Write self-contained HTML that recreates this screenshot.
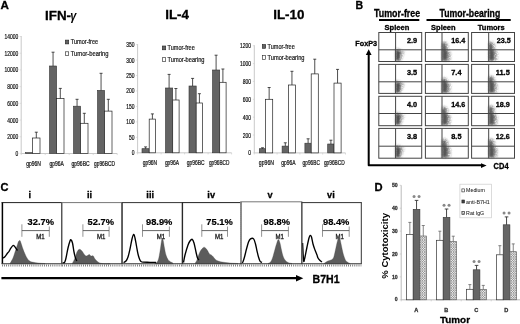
<!DOCTYPE html>
<html><head><meta charset="utf-8"><style>
html,body{margin:0;padding:0;background:#fff;width:520px;height:324px;overflow:hidden}
svg{display:block;filter:blur(0.3px)}
text{font-family:"Liberation Sans", sans-serif}
</style></head><body>
<svg width="520" height="324" viewBox="0 0 520 324" font-family='"Liberation Sans", sans-serif'>
<rect width="520" height="324" fill="#fff"/>
<text x="0.5" y="8.9" font-size="11.2" font-weight="bold" fill="#000" stroke="#000" stroke-width="0.3" textLength="8.4" lengthAdjust="spacingAndGlyphs">A</text>
<text x="45.0" y="19.8" font-size="13.4" font-weight="bold" fill="#000" stroke="#000" stroke-width="0.3">IFN-</text>
<text x="70.3" y="19.8" font-size="12.5" font-weight="bold" font-style="italic" textLength="6.1" lengthAdjust="spacingAndGlyphs">γ</text>
<line x1="21.2" y1="36.0" x2="21.2" y2="153.5" stroke="#bbb" stroke-width="0.8"/>
<line x1="21.2" y1="153.5" x2="117.2" y2="153.5" stroke="#bbb" stroke-width="0.8"/>
<line x1="21.2" y1="153.5" x2="21.2" y2="155.1" stroke="#ccc" stroke-width="0.7"/>
<line x1="45.2" y1="153.5" x2="45.2" y2="155.1" stroke="#ccc" stroke-width="0.7"/>
<line x1="69.2" y1="153.5" x2="69.2" y2="155.1" stroke="#ccc" stroke-width="0.7"/>
<line x1="93.2" y1="153.5" x2="93.2" y2="155.1" stroke="#ccc" stroke-width="0.7"/>
<line x1="117.2" y1="153.5" x2="117.2" y2="155.1" stroke="#ccc" stroke-width="0.7"/>
<line x1="19.7" y1="36.5" x2="21.2" y2="36.5" stroke="#ccc" stroke-width="0.6"/>
<text x="18.2" y="39.0" font-size="7.3" fill="#111" stroke="#111" stroke-width="0.22" text-anchor="end" textLength="13.75" lengthAdjust="spacingAndGlyphs">14000</text>
<line x1="19.7" y1="53.214285714285715" x2="21.2" y2="53.214285714285715" stroke="#ccc" stroke-width="0.6"/>
<text x="18.2" y="55.714285714285715" font-size="7.3" fill="#111" stroke="#111" stroke-width="0.22" text-anchor="end" textLength="13.75" lengthAdjust="spacingAndGlyphs">12000</text>
<line x1="19.7" y1="69.92857142857143" x2="21.2" y2="69.92857142857143" stroke="#ccc" stroke-width="0.6"/>
<text x="18.2" y="72.42857142857143" font-size="7.3" fill="#111" stroke="#111" stroke-width="0.22" text-anchor="end" textLength="13.75" lengthAdjust="spacingAndGlyphs">10000</text>
<line x1="19.7" y1="86.64285714285714" x2="21.2" y2="86.64285714285714" stroke="#ccc" stroke-width="0.6"/>
<text x="18.2" y="89.14285714285714" font-size="7.3" fill="#111" stroke="#111" stroke-width="0.22" text-anchor="end" textLength="11.0" lengthAdjust="spacingAndGlyphs">8000</text>
<line x1="19.7" y1="103.35714285714286" x2="21.2" y2="103.35714285714286" stroke="#ccc" stroke-width="0.6"/>
<text x="18.2" y="105.85714285714286" font-size="7.3" fill="#111" stroke="#111" stroke-width="0.22" text-anchor="end" textLength="11.0" lengthAdjust="spacingAndGlyphs">6000</text>
<line x1="19.7" y1="120.07142857142858" x2="21.2" y2="120.07142857142858" stroke="#ccc" stroke-width="0.6"/>
<text x="18.2" y="122.57142857142858" font-size="7.3" fill="#111" stroke="#111" stroke-width="0.22" text-anchor="end" textLength="11.0" lengthAdjust="spacingAndGlyphs">4000</text>
<line x1="19.7" y1="136.78571428571428" x2="21.2" y2="136.78571428571428" stroke="#ccc" stroke-width="0.6"/>
<text x="18.2" y="139.28571428571428" font-size="7.3" fill="#111" stroke="#111" stroke-width="0.22" text-anchor="end" textLength="11.0" lengthAdjust="spacingAndGlyphs">2000</text>
<line x1="19.7" y1="153.5" x2="21.2" y2="153.5" stroke="#ccc" stroke-width="0.6"/>
<text x="18.2" y="156.0" font-size="7.3" fill="#111" stroke="#111" stroke-width="0.22" text-anchor="end" textLength="2.75" lengthAdjust="spacingAndGlyphs">0</text>
<rect x="25.50" y="152.60" width="7.10" height="0.90" fill="#646464" stroke="#333" stroke-width="0.6"/>
<rect x="32.60" y="138.00" width="7.40" height="15.50" fill="#fff" stroke="#222" stroke-width="0.7"/>
<line x1="36.300000000000004" y1="138.0" x2="36.300000000000004" y2="132.2" stroke="#222" stroke-width="0.8"/>
<line x1="34.800000000000004" y1="132.2" x2="37.800000000000004" y2="132.2" stroke="#222" stroke-width="0.8"/>
<rect x="49.50" y="66.00" width="7.10" height="87.50" fill="#646464" stroke="#333" stroke-width="0.6"/>
<rect x="56.60" y="98.50" width="7.40" height="55.00" fill="#fff" stroke="#222" stroke-width="0.7"/>
<line x1="53.05" y1="66.0" x2="53.05" y2="52.2" stroke="#222" stroke-width="0.8"/>
<line x1="51.55" y1="52.2" x2="54.55" y2="52.2" stroke="#222" stroke-width="0.8"/>
<line x1="60.300000000000004" y1="98.5" x2="60.300000000000004" y2="88.4" stroke="#222" stroke-width="0.8"/>
<line x1="58.800000000000004" y1="88.4" x2="61.800000000000004" y2="88.4" stroke="#222" stroke-width="0.8"/>
<rect x="73.50" y="106.20" width="7.10" height="47.30" fill="#646464" stroke="#333" stroke-width="0.6"/>
<rect x="80.60" y="123.30" width="7.40" height="30.20" fill="#fff" stroke="#222" stroke-width="0.7"/>
<line x1="77.05" y1="106.2" x2="77.05" y2="99.3" stroke="#222" stroke-width="0.8"/>
<line x1="75.55" y1="99.3" x2="78.55" y2="99.3" stroke="#222" stroke-width="0.8"/>
<line x1="84.30000000000001" y1="123.3" x2="84.30000000000001" y2="113.3" stroke="#222" stroke-width="0.8"/>
<line x1="82.80000000000001" y1="113.3" x2="85.80000000000001" y2="113.3" stroke="#222" stroke-width="0.8"/>
<rect x="97.50" y="90.40" width="7.10" height="63.10" fill="#646464" stroke="#333" stroke-width="0.6"/>
<rect x="104.60" y="111.10" width="7.40" height="42.40" fill="#fff" stroke="#222" stroke-width="0.7"/>
<line x1="101.05" y1="90.4" x2="101.05" y2="73.3" stroke="#222" stroke-width="0.8"/>
<line x1="99.55" y1="73.3" x2="102.55" y2="73.3" stroke="#222" stroke-width="0.8"/>
<line x1="108.30000000000001" y1="111.1" x2="108.30000000000001" y2="99.3" stroke="#222" stroke-width="0.8"/>
<line x1="106.80000000000001" y1="99.3" x2="109.80000000000001" y2="99.3" stroke="#222" stroke-width="0.8"/>
<text x="26.2" y="166.0" font-size="6.8" fill="#111" stroke="#111" stroke-width="0.22" textLength="14.7" lengthAdjust="spacingAndGlyphs">gp96N</text>
<text x="49.6" y="166.0" font-size="6.8" fill="#111" stroke="#111" stroke-width="0.22" textLength="14.3" lengthAdjust="spacingAndGlyphs">gp96A</text>
<text x="71.5" y="166.0" font-size="6.8" fill="#111" stroke="#111" stroke-width="0.22" textLength="18.1" lengthAdjust="spacingAndGlyphs">gp96BC</text>
<text x="94.0" y="166.0" font-size="6.8" fill="#111" stroke="#111" stroke-width="0.22" textLength="21.0" lengthAdjust="spacingAndGlyphs">gp96BCD</text>
<rect x="65.30" y="40.10" width="3.40" height="3.80" fill="#646464" stroke="#222" stroke-width="0.6"/>
<rect x="65.30" y="51.80" width="3.40" height="3.80" fill="#fff" stroke="#222" stroke-width="0.6"/>
<text x="70.8" y="44.4" font-size="6.8" fill="#222" stroke="#222" stroke-width="0.22" textLength="27.4" lengthAdjust="spacingAndGlyphs">Tumor-free</text>
<text x="70.8" y="56.1" font-size="6.8" fill="#222" stroke="#222" stroke-width="0.22" textLength="37.7" lengthAdjust="spacingAndGlyphs">Tumor-bearing</text>
<text x="165.2" y="19.1" font-size="13.4" font-weight="bold" fill="#000" stroke="#000" stroke-width="0.3">IL-4</text>
<line x1="137.6" y1="44.1" x2="137.6" y2="152.8" stroke="#bbb" stroke-width="0.8"/>
<line x1="137.6" y1="152.8" x2="231.6" y2="152.8" stroke="#bbb" stroke-width="0.8"/>
<line x1="137.6" y1="152.8" x2="137.6" y2="154.4" stroke="#ccc" stroke-width="0.7"/>
<line x1="161.1" y1="152.8" x2="161.1" y2="154.4" stroke="#ccc" stroke-width="0.7"/>
<line x1="184.6" y1="152.8" x2="184.6" y2="154.4" stroke="#ccc" stroke-width="0.7"/>
<line x1="208.1" y1="152.8" x2="208.1" y2="154.4" stroke="#ccc" stroke-width="0.7"/>
<line x1="231.6" y1="152.8" x2="231.6" y2="154.4" stroke="#ccc" stroke-width="0.7"/>
<line x1="136.1" y1="44.6" x2="137.6" y2="44.6" stroke="#ccc" stroke-width="0.6"/>
<text x="134.6" y="47.1" font-size="7.3" fill="#111" stroke="#111" stroke-width="0.22" text-anchor="end" textLength="8.25" lengthAdjust="spacingAndGlyphs">350</text>
<line x1="136.1" y1="60.057142857142864" x2="137.6" y2="60.057142857142864" stroke="#ccc" stroke-width="0.6"/>
<text x="134.6" y="62.557142857142864" font-size="7.3" fill="#111" stroke="#111" stroke-width="0.22" text-anchor="end" textLength="8.25" lengthAdjust="spacingAndGlyphs">300</text>
<line x1="136.1" y1="75.51428571428572" x2="137.6" y2="75.51428571428572" stroke="#ccc" stroke-width="0.6"/>
<text x="134.6" y="78.01428571428572" font-size="7.3" fill="#111" stroke="#111" stroke-width="0.22" text-anchor="end" textLength="8.25" lengthAdjust="spacingAndGlyphs">250</text>
<line x1="136.1" y1="90.97142857142859" x2="137.6" y2="90.97142857142859" stroke="#ccc" stroke-width="0.6"/>
<text x="134.6" y="93.47142857142859" font-size="7.3" fill="#111" stroke="#111" stroke-width="0.22" text-anchor="end" textLength="8.25" lengthAdjust="spacingAndGlyphs">200</text>
<line x1="136.1" y1="106.42857142857144" x2="137.6" y2="106.42857142857144" stroke="#ccc" stroke-width="0.6"/>
<text x="134.6" y="108.92857142857144" font-size="7.3" fill="#111" stroke="#111" stroke-width="0.22" text-anchor="end" textLength="8.25" lengthAdjust="spacingAndGlyphs">150</text>
<line x1="136.1" y1="121.8857142857143" x2="137.6" y2="121.8857142857143" stroke="#ccc" stroke-width="0.6"/>
<text x="134.6" y="124.3857142857143" font-size="7.3" fill="#111" stroke="#111" stroke-width="0.22" text-anchor="end" textLength="8.25" lengthAdjust="spacingAndGlyphs">100</text>
<line x1="136.1" y1="137.34285714285716" x2="137.6" y2="137.34285714285716" stroke="#ccc" stroke-width="0.6"/>
<text x="134.6" y="139.84285714285716" font-size="7.3" fill="#111" stroke="#111" stroke-width="0.22" text-anchor="end" textLength="5.5" lengthAdjust="spacingAndGlyphs">50</text>
<line x1="136.1" y1="152.8" x2="137.6" y2="152.8" stroke="#ccc" stroke-width="0.6"/>
<text x="134.6" y="155.3" font-size="7.3" fill="#111" stroke="#111" stroke-width="0.22" text-anchor="end" textLength="2.75" lengthAdjust="spacingAndGlyphs">0</text>
<rect x="142.00" y="148.70" width="7.20" height="4.10" fill="#646464" stroke="#333" stroke-width="0.6"/>
<rect x="149.20" y="119.10" width="6.40" height="33.70" fill="#fff" stroke="#222" stroke-width="0.7"/>
<line x1="145.6" y1="148.7" x2="145.6" y2="146.9" stroke="#222" stroke-width="0.8"/>
<line x1="144.1" y1="146.9" x2="147.1" y2="146.9" stroke="#222" stroke-width="0.8"/>
<line x1="152.39999999999998" y1="119.1" x2="152.39999999999998" y2="113.9" stroke="#222" stroke-width="0.8"/>
<line x1="150.89999999999998" y1="113.9" x2="153.89999999999998" y2="113.9" stroke="#222" stroke-width="0.8"/>
<rect x="165.50" y="88.00" width="7.20" height="64.80" fill="#646464" stroke="#333" stroke-width="0.6"/>
<rect x="172.70" y="100.00" width="6.40" height="52.80" fill="#fff" stroke="#222" stroke-width="0.7"/>
<line x1="169.1" y1="88.0" x2="169.1" y2="74.4" stroke="#222" stroke-width="0.8"/>
<line x1="167.6" y1="74.4" x2="170.6" y2="74.4" stroke="#222" stroke-width="0.8"/>
<line x1="175.89999999999998" y1="100.0" x2="175.89999999999998" y2="88.5" stroke="#222" stroke-width="0.8"/>
<line x1="174.39999999999998" y1="88.5" x2="177.39999999999998" y2="88.5" stroke="#222" stroke-width="0.8"/>
<rect x="189.00" y="86.00" width="7.20" height="66.80" fill="#646464" stroke="#333" stroke-width="0.6"/>
<rect x="196.20" y="103.00" width="6.40" height="49.80" fill="#fff" stroke="#222" stroke-width="0.7"/>
<line x1="192.6" y1="86.0" x2="192.6" y2="78.4" stroke="#222" stroke-width="0.8"/>
<line x1="191.1" y1="78.4" x2="194.1" y2="78.4" stroke="#222" stroke-width="0.8"/>
<line x1="199.39999999999998" y1="103.0" x2="199.39999999999998" y2="93.7" stroke="#222" stroke-width="0.8"/>
<line x1="197.89999999999998" y1="93.7" x2="200.89999999999998" y2="93.7" stroke="#222" stroke-width="0.8"/>
<rect x="212.50" y="70.00" width="7.20" height="82.80" fill="#646464" stroke="#333" stroke-width="0.6"/>
<rect x="219.70" y="82.30" width="6.40" height="70.50" fill="#fff" stroke="#222" stroke-width="0.7"/>
<line x1="216.1" y1="70.0" x2="216.1" y2="55.2" stroke="#222" stroke-width="0.8"/>
<line x1="214.6" y1="55.2" x2="217.6" y2="55.2" stroke="#222" stroke-width="0.8"/>
<line x1="222.89999999999998" y1="82.3" x2="222.89999999999998" y2="69.0" stroke="#222" stroke-width="0.8"/>
<line x1="221.39999999999998" y1="69.0" x2="224.39999999999998" y2="69.0" stroke="#222" stroke-width="0.8"/>
<text x="142.7" y="165.2" font-size="6.8" fill="#111" stroke="#111" stroke-width="0.22" textLength="14.4" lengthAdjust="spacingAndGlyphs">gp96N</text>
<text x="164.9" y="165.2" font-size="6.8" fill="#111" stroke="#111" stroke-width="0.22" textLength="14.2" lengthAdjust="spacingAndGlyphs">gp96A</text>
<text x="186.7" y="165.2" font-size="6.8" fill="#111" stroke="#111" stroke-width="0.22" textLength="17.8" lengthAdjust="spacingAndGlyphs">gp96BC</text>
<text x="208.9" y="165.2" font-size="6.8" fill="#111" stroke="#111" stroke-width="0.22" textLength="20.5" lengthAdjust="spacingAndGlyphs">gp96BCD</text>
<rect x="162.30" y="46.00" width="3.40" height="3.80" fill="#646464" stroke="#222" stroke-width="0.6"/>
<rect x="162.30" y="57.70" width="3.40" height="3.80" fill="#fff" stroke="#222" stroke-width="0.6"/>
<text x="167.5" y="50.3" font-size="6.8" fill="#222" stroke="#222" stroke-width="0.22" textLength="27.3" lengthAdjust="spacingAndGlyphs">Tumor-free</text>
<text x="167.5" y="62.0" font-size="6.8" fill="#222" stroke="#222" stroke-width="0.22" textLength="37.0" lengthAdjust="spacingAndGlyphs">Tumor-bearing</text>
<text x="273.2" y="19.1" font-size="13.4" font-weight="bold" fill="#000" stroke="#000" stroke-width="0.3">IL-10</text>
<line x1="254.3" y1="45.2" x2="254.3" y2="152.9" stroke="#bbb" stroke-width="0.8"/>
<line x1="254.3" y1="152.9" x2="345.5" y2="152.9" stroke="#bbb" stroke-width="0.8"/>
<line x1="254.3" y1="152.9" x2="254.3" y2="154.5" stroke="#ccc" stroke-width="0.7"/>
<line x1="277.1" y1="152.9" x2="277.1" y2="154.5" stroke="#ccc" stroke-width="0.7"/>
<line x1="299.90000000000003" y1="152.9" x2="299.90000000000003" y2="154.5" stroke="#ccc" stroke-width="0.7"/>
<line x1="322.70000000000005" y1="152.9" x2="322.70000000000005" y2="154.5" stroke="#ccc" stroke-width="0.7"/>
<line x1="345.5" y1="152.9" x2="345.5" y2="154.5" stroke="#ccc" stroke-width="0.7"/>
<line x1="252.8" y1="45.7" x2="254.3" y2="45.7" stroke="#ccc" stroke-width="0.6"/>
<text x="251.0" y="48.2" font-size="7.3" fill="#111" stroke="#111" stroke-width="0.22" text-anchor="end" textLength="11.0" lengthAdjust="spacingAndGlyphs">1200</text>
<line x1="252.8" y1="63.56666666666667" x2="254.3" y2="63.56666666666667" stroke="#ccc" stroke-width="0.6"/>
<text x="251.0" y="66.06666666666666" font-size="7.3" fill="#111" stroke="#111" stroke-width="0.22" text-anchor="end" textLength="11.0" lengthAdjust="spacingAndGlyphs">1000</text>
<line x1="252.8" y1="81.43333333333334" x2="254.3" y2="81.43333333333334" stroke="#ccc" stroke-width="0.6"/>
<text x="251.0" y="83.93333333333334" font-size="7.3" fill="#111" stroke="#111" stroke-width="0.22" text-anchor="end" textLength="8.25" lengthAdjust="spacingAndGlyphs">800</text>
<line x1="252.8" y1="99.30000000000001" x2="254.3" y2="99.30000000000001" stroke="#ccc" stroke-width="0.6"/>
<text x="251.0" y="101.80000000000001" font-size="7.3" fill="#111" stroke="#111" stroke-width="0.22" text-anchor="end" textLength="8.25" lengthAdjust="spacingAndGlyphs">600</text>
<line x1="252.8" y1="117.16666666666667" x2="254.3" y2="117.16666666666667" stroke="#ccc" stroke-width="0.6"/>
<text x="251.0" y="119.66666666666667" font-size="7.3" fill="#111" stroke="#111" stroke-width="0.22" text-anchor="end" textLength="8.25" lengthAdjust="spacingAndGlyphs">400</text>
<line x1="252.8" y1="135.03333333333336" x2="254.3" y2="135.03333333333336" stroke="#ccc" stroke-width="0.6"/>
<text x="251.0" y="137.53333333333336" font-size="7.3" fill="#111" stroke="#111" stroke-width="0.22" text-anchor="end" textLength="8.25" lengthAdjust="spacingAndGlyphs">200</text>
<line x1="252.8" y1="152.9" x2="254.3" y2="152.9" stroke="#ccc" stroke-width="0.6"/>
<text x="251.0" y="155.4" font-size="7.3" fill="#111" stroke="#111" stroke-width="0.22" text-anchor="end" textLength="2.75" lengthAdjust="spacingAndGlyphs">0</text>
<rect x="259.30" y="148.70" width="6.40" height="4.20" fill="#646464" stroke="#333" stroke-width="0.6"/>
<rect x="265.60" y="99.30" width="7.10" height="53.60" fill="#fff" stroke="#222" stroke-width="0.7"/>
<line x1="262.5" y1="148.7" x2="262.5" y2="147.8" stroke="#222" stroke-width="0.8"/>
<line x1="261.0" y1="147.8" x2="264.0" y2="147.8" stroke="#222" stroke-width="0.8"/>
<line x1="269.15000000000003" y1="99.3" x2="269.15000000000003" y2="87.5" stroke="#222" stroke-width="0.8"/>
<line x1="267.65000000000003" y1="87.5" x2="270.65000000000003" y2="87.5" stroke="#222" stroke-width="0.8"/>
<rect x="282.10" y="146.10" width="6.40" height="6.80" fill="#646464" stroke="#333" stroke-width="0.6"/>
<rect x="288.40" y="85.00" width="7.10" height="67.90" fill="#fff" stroke="#222" stroke-width="0.7"/>
<line x1="285.3" y1="146.1" x2="285.3" y2="142.8" stroke="#222" stroke-width="0.8"/>
<line x1="283.8" y1="142.8" x2="286.8" y2="142.8" stroke="#222" stroke-width="0.8"/>
<line x1="291.95000000000005" y1="85.0" x2="291.95000000000005" y2="71.3" stroke="#222" stroke-width="0.8"/>
<line x1="290.45000000000005" y1="71.3" x2="293.45000000000005" y2="71.3" stroke="#222" stroke-width="0.8"/>
<rect x="304.90" y="143.20" width="6.40" height="9.70" fill="#646464" stroke="#333" stroke-width="0.6"/>
<rect x="311.20" y="73.90" width="7.10" height="79.00" fill="#fff" stroke="#222" stroke-width="0.7"/>
<line x1="308.1" y1="143.2" x2="308.1" y2="138.8" stroke="#222" stroke-width="0.8"/>
<line x1="306.6" y1="138.8" x2="309.6" y2="138.8" stroke="#222" stroke-width="0.8"/>
<line x1="314.75000000000006" y1="73.9" x2="314.75000000000006" y2="59.2" stroke="#222" stroke-width="0.8"/>
<line x1="313.25000000000006" y1="59.2" x2="316.25000000000006" y2="59.2" stroke="#222" stroke-width="0.8"/>
<rect x="327.70" y="144.00" width="6.40" height="8.90" fill="#646464" stroke="#333" stroke-width="0.6"/>
<rect x="334.00" y="83.10" width="7.10" height="69.80" fill="#fff" stroke="#222" stroke-width="0.7"/>
<line x1="330.90000000000003" y1="144.0" x2="330.90000000000003" y2="140.2" stroke="#222" stroke-width="0.8"/>
<line x1="329.40000000000003" y1="140.2" x2="332.40000000000003" y2="140.2" stroke="#222" stroke-width="0.8"/>
<line x1="337.55000000000007" y1="83.1" x2="337.55000000000007" y2="69.4" stroke="#222" stroke-width="0.8"/>
<line x1="336.05000000000007" y1="69.4" x2="339.05000000000007" y2="69.4" stroke="#222" stroke-width="0.8"/>
<text x="258.8" y="165.2" font-size="6.8" fill="#111" stroke="#111" stroke-width="0.22" textLength="15.2" lengthAdjust="spacingAndGlyphs">gp96N</text>
<text x="281.3" y="165.2" font-size="6.8" fill="#111" stroke="#111" stroke-width="0.22" textLength="14.4" lengthAdjust="spacingAndGlyphs">gp96A</text>
<text x="302.6" y="165.2" font-size="6.8" fill="#111" stroke="#111" stroke-width="0.22" textLength="17.3" lengthAdjust="spacingAndGlyphs">gp96BC</text>
<text x="323.9" y="165.2" font-size="6.8" fill="#111" stroke="#111" stroke-width="0.22" textLength="20.8" lengthAdjust="spacingAndGlyphs">gp96BCD</text>
<rect x="262.30" y="44.50" width="3.40" height="3.80" fill="#646464" stroke="#222" stroke-width="0.6"/>
<rect x="262.30" y="55.50" width="3.40" height="3.80" fill="#fff" stroke="#222" stroke-width="0.6"/>
<text x="267.5" y="48.8" font-size="6.8" fill="#222" stroke="#222" stroke-width="0.22" textLength="27.3" lengthAdjust="spacingAndGlyphs">Tumor-free</text>
<text x="267.5" y="59.8" font-size="6.8" fill="#222" stroke="#222" stroke-width="0.22" textLength="37.0" lengthAdjust="spacingAndGlyphs">Tumor-bearing</text>
<text x="355.4" y="8.9" font-size="10.2" font-weight="bold" fill="#000" stroke="#000" stroke-width="0.3" textLength="7.6" lengthAdjust="spacingAndGlyphs">B</text>
<text x="374.0" y="16.8" font-size="10.0" font-weight="bold" fill="#000" stroke="#000" stroke-width="0.3" textLength="46.2" lengthAdjust="spacingAndGlyphs">Tumor-free</text>
<rect x="379.00" y="19.00" width="40.30" height="2.00" fill="#000" stroke="none" stroke-width="1"/>
<text x="439.6" y="16.8" font-size="10.0" font-weight="bold" fill="#000" stroke="#000" stroke-width="0.3" textLength="60.6" lengthAdjust="spacingAndGlyphs">Tumor-bearing</text>
<rect x="426.50" y="19.00" width="84.20" height="2.00" fill="#000" stroke="none" stroke-width="1"/>
<text x="384.5" y="29.6" font-size="7.6" font-weight="bold" fill="#000" stroke="#000" stroke-width="0.3" textLength="24.8" lengthAdjust="spacingAndGlyphs">Spleen</text>
<text x="431.1" y="29.6" font-size="7.6" font-weight="bold" fill="#000" stroke="#000" stroke-width="0.3" textLength="24.5" lengthAdjust="spacingAndGlyphs">Spleen</text>
<text x="477.8" y="29.6" font-size="7.6" font-weight="bold" fill="#000" stroke="#000" stroke-width="0.3" textLength="26.9" lengthAdjust="spacingAndGlyphs">Tumors</text>
<text x="355.3" y="46.1" font-size="8.0" font-weight="bold" fill="#000" stroke="#000" stroke-width="0.3" textLength="21.8" lengthAdjust="spacingAndGlyphs">FoxP3</text>
<path d="M368.7 54 L368.7 165.2 L482 165.2" fill="none" stroke="#000" stroke-width="2" stroke-linejoin="round"/>
<path d="M368.7 49.3 L371.6 55 L365.8 55 Z" fill="#000"/>
<path d="M486.6 165.6 L481.0 163.2 L481.0 168.0 Z" fill="#000"/>
<text x="493.6" y="168.5" font-size="8.2" font-weight="bold" fill="#000" stroke="#000" stroke-width="0.3" textLength="15.0" lengthAdjust="spacingAndGlyphs">CD4</text>
<defs><filter id="bl" x="-50%" y="-50%" width="200%" height="200%"><feGaussianBlur stdDeviation="0.9"/></filter><filter id="bl2" x="-50%" y="-50%" width="200%" height="200%"><feGaussianBlur stdDeviation="0.5"/></filter><filter id="spk" x="-50%" y="-50%" width="200%" height="200%"><feGaussianBlur in="SourceGraphic" stdDeviation="0.9" result="b"/><feTurbulence type="fractalNoise" baseFrequency="0.7" numOctaves="2" seed="3" result="n"/><feColorMatrix in="n" type="matrix" values="0 0 0 0 0  0 0 0 0 0  0 0 0 0 0  0 0 0 -2.2 1.9" result="m"/><feComposite in="b" in2="m" operator="in" result="c"/><feGaussianBlur in="c" stdDeviation="0.35"/></filter><pattern id="hatch" width="2.4" height="2.4" patternUnits="userSpaceOnUse"><rect width="2.4" height="2.4" fill="#f2f2f2"/><path d="M0 0 L2.4 2.4 M2.4 0 L0 2.4" stroke="#7a7a7a" stroke-width="0.6"/></pattern></defs>
<path d="M395.6 47.8 L399.6 48.8 L404.6 51.8 L403.1 55.8 L401.1 60.9 L395.6 60.9 Z" fill="#b0b0b0" filter="url(#spk)"/>
<path d="M395.90000000000003 50.099999999999994 L400.6 51.3 L400.1 55.8 L399.40000000000003 60.5 L395.90000000000003 60.5 Z" fill="#4a4a4a" filter="url(#bl)"/>
<rect x="378.80" y="32.50" width="42.90" height="29.00" fill="none" stroke="#444" stroke-width="1.0"/>
<line x1="378.8" y1="49.8" x2="421.7" y2="49.8" stroke="#444" stroke-width="1.0"/>
<line x1="395.6" y1="32.5" x2="395.6" y2="61.5" stroke="#444" stroke-width="1.0"/>
<text x="407.0" y="42.8" font-size="7.4" font-weight="bold" fill="#000" stroke="#000" stroke-width="0.3" textLength="10.2" lengthAdjust="spacingAndGlyphs">2.9</text>
<path d="M442.0 41.8 L445.5 41.3 L448.5 44.8 L448.5 49.8 L451.0 52.8 L450.5 60.9 L442.0 60.9 Z" fill="#a8a8a8" filter="url(#spk)"/>
<path d="M442.6 43.3 L445.4 43.8 L445.8 49.8 L447.8 51.8 L447.2 60.5 L442.3 60.5 L442.3 49.8 Z" fill="#555" filter="url(#bl)"/>
<rect x="425.40" y="32.50" width="42.90" height="29.00" fill="none" stroke="#444" stroke-width="1.0"/>
<line x1="425.4" y1="49.8" x2="468.29999999999995" y2="49.8" stroke="#444" stroke-width="1.0"/>
<line x1="442.0" y1="32.5" x2="442.0" y2="61.5" stroke="#444" stroke-width="1.0"/>
<text x="451.3" y="42.8" font-size="7.4" font-weight="bold" fill="#000" stroke="#000" stroke-width="0.3" textLength="14.0" lengthAdjust="spacingAndGlyphs">16.4</text>
<path d="M488.7 41.8 L492.2 41.3 L495.2 44.8 L495.2 49.8 L497.7 52.8 L497.2 60.9 L488.7 60.9 Z" fill="#a8a8a8" filter="url(#spk)"/>
<path d="M489.3 43.3 L492.09999999999997 43.8 L492.5 49.8 L494.5 51.8 L493.9 60.5 L489.0 60.5 L489.0 49.8 Z" fill="#555" filter="url(#bl)"/>
<rect x="471.60" y="32.50" width="42.90" height="29.00" fill="none" stroke="#444" stroke-width="1.0"/>
<line x1="471.6" y1="49.8" x2="514.5" y2="49.8" stroke="#444" stroke-width="1.0"/>
<line x1="488.7" y1="32.5" x2="488.7" y2="61.5" stroke="#444" stroke-width="1.0"/>
<text x="496.7" y="42.8" font-size="7.4" font-weight="bold" fill="#000" stroke="#000" stroke-width="0.3" textLength="14.0" lengthAdjust="spacingAndGlyphs">23.5</text>
<path d="M395.6 79.80000000000001 L399.6 80.80000000000001 L404.6 83.80000000000001 L403.1 87.80000000000001 L401.1 92.80000000000001 L395.6 92.80000000000001 Z" fill="#b0b0b0" filter="url(#spk)"/>
<path d="M395.90000000000003 82.10000000000001 L400.6 83.30000000000001 L400.1 87.80000000000001 L399.40000000000003 92.4 L395.90000000000003 92.4 Z" fill="#4a4a4a" filter="url(#bl)"/>
<rect x="378.80" y="64.40" width="42.90" height="29.00" fill="none" stroke="#444" stroke-width="1.0"/>
<line x1="378.8" y1="81.80000000000001" x2="421.7" y2="81.80000000000001" stroke="#444" stroke-width="1.0"/>
<line x1="395.6" y1="64.4" x2="395.6" y2="93.4" stroke="#444" stroke-width="1.0"/>
<text x="407.0" y="74.7" font-size="7.4" font-weight="bold" fill="#000" stroke="#000" stroke-width="0.3" textLength="10.2" lengthAdjust="spacingAndGlyphs">3.5</text>
<path d="M442.0 77.80000000000001 L445.5 77.30000000000001 L448.5 80.80000000000001 L448.5 81.80000000000001 L451.0 84.80000000000001 L450.5 92.80000000000001 L442.0 92.80000000000001 Z" fill="#a8a8a8" filter="url(#spk)"/>
<path d="M442.6 79.30000000000001 L445.4 79.80000000000001 L445.8 81.80000000000001 L447.8 83.80000000000001 L447.2 92.4 L442.3 92.4 L442.3 81.80000000000001 Z" fill="#555" filter="url(#bl)"/>
<rect x="425.40" y="64.40" width="42.90" height="29.00" fill="none" stroke="#444" stroke-width="1.0"/>
<line x1="425.4" y1="81.80000000000001" x2="468.29999999999995" y2="81.80000000000001" stroke="#444" stroke-width="1.0"/>
<line x1="442.0" y1="64.4" x2="442.0" y2="93.4" stroke="#444" stroke-width="1.0"/>
<text x="451.3" y="74.7" font-size="7.4" font-weight="bold" fill="#000" stroke="#000" stroke-width="0.3" textLength="10.2" lengthAdjust="spacingAndGlyphs">7.4</text>
<path d="M488.7 75.80000000000001 L492.2 75.30000000000001 L495.2 78.80000000000001 L495.2 81.80000000000001 L497.7 84.80000000000001 L497.2 92.80000000000001 L488.7 92.80000000000001 Z" fill="#a8a8a8" filter="url(#spk)"/>
<path d="M489.3 77.30000000000001 L492.09999999999997 77.80000000000001 L492.5 81.80000000000001 L494.5 83.80000000000001 L493.9 92.4 L489.0 92.4 L489.0 81.80000000000001 Z" fill="#555" filter="url(#bl)"/>
<rect x="471.60" y="64.40" width="42.90" height="29.00" fill="none" stroke="#444" stroke-width="1.0"/>
<line x1="471.6" y1="81.80000000000001" x2="514.5" y2="81.80000000000001" stroke="#444" stroke-width="1.0"/>
<line x1="488.7" y1="64.4" x2="488.7" y2="93.4" stroke="#444" stroke-width="1.0"/>
<text x="495.8" y="74.7" font-size="7.4" font-weight="bold" fill="#000" stroke="#000" stroke-width="0.3" textLength="14.0" lengthAdjust="spacingAndGlyphs">11.5</text>
<path d="M395.6 111.5 L399.6 112.5 L404.6 115.5 L403.1 119.5 L401.1 125.1 L395.6 125.1 Z" fill="#b0b0b0" filter="url(#spk)"/>
<path d="M395.90000000000003 113.8 L400.6 115.0 L400.1 119.5 L399.40000000000003 124.69999999999999 L395.90000000000003 124.69999999999999 Z" fill="#4a4a4a" filter="url(#bl)"/>
<rect x="378.80" y="96.30" width="42.90" height="29.40" fill="none" stroke="#444" stroke-width="1.0"/>
<line x1="378.8" y1="113.5" x2="421.7" y2="113.5" stroke="#444" stroke-width="1.0"/>
<line x1="395.6" y1="96.3" x2="395.6" y2="125.69999999999999" stroke="#444" stroke-width="1.0"/>
<text x="407.0" y="106.6" font-size="7.4" font-weight="bold" fill="#000" stroke="#000" stroke-width="0.3" textLength="10.2" lengthAdjust="spacingAndGlyphs">4.0</text>
<path d="M442.0 106.5 L445.5 106.0 L448.5 109.5 L448.5 113.5 L451.0 116.5 L450.5 125.1 L442.0 125.1 Z" fill="#a8a8a8" filter="url(#spk)"/>
<path d="M442.6 108.0 L445.4 108.5 L445.8 113.5 L447.8 115.5 L447.2 124.69999999999999 L442.3 124.69999999999999 L442.3 113.5 Z" fill="#555" filter="url(#bl)"/>
<rect x="425.40" y="96.30" width="42.90" height="29.40" fill="none" stroke="#444" stroke-width="1.0"/>
<line x1="425.4" y1="113.5" x2="468.29999999999995" y2="113.5" stroke="#444" stroke-width="1.0"/>
<line x1="442.0" y1="96.3" x2="442.0" y2="125.69999999999999" stroke="#444" stroke-width="1.0"/>
<text x="451.3" y="106.6" font-size="7.4" font-weight="bold" fill="#000" stroke="#000" stroke-width="0.3" textLength="14.0" lengthAdjust="spacingAndGlyphs">14.6</text>
<path d="M488.7 105.5 L492.2 105.0 L495.2 108.5 L495.2 113.5 L497.7 116.5 L497.2 125.1 L488.7 125.1 Z" fill="#a8a8a8" filter="url(#spk)"/>
<path d="M489.3 107.0 L492.09999999999997 107.5 L492.5 113.5 L494.5 115.5 L493.9 124.69999999999999 L489.0 124.69999999999999 L489.0 113.5 Z" fill="#555" filter="url(#bl)"/>
<rect x="471.60" y="96.30" width="42.90" height="29.40" fill="none" stroke="#444" stroke-width="1.0"/>
<line x1="471.6" y1="113.5" x2="514.5" y2="113.5" stroke="#444" stroke-width="1.0"/>
<line x1="488.7" y1="96.3" x2="488.7" y2="125.69999999999999" stroke="#444" stroke-width="1.0"/>
<text x="495.8" y="106.6" font-size="7.4" font-weight="bold" fill="#000" stroke="#000" stroke-width="0.3" textLength="14.0" lengthAdjust="spacingAndGlyphs">18.9</text>
<path d="M395.6 144.20000000000002 L399.6 145.20000000000002 L404.6 148.20000000000002 L403.1 152.20000000000002 L401.1 157.60000000000002 L395.6 157.60000000000002 Z" fill="#b0b0b0" filter="url(#spk)"/>
<path d="M395.90000000000003 146.50000000000003 L400.6 147.70000000000002 L400.1 152.20000000000002 L399.40000000000003 157.20000000000002 L395.90000000000003 157.20000000000002 Z" fill="#4a4a4a" filter="url(#bl)"/>
<rect x="378.80" y="128.40" width="42.90" height="29.80" fill="none" stroke="#444" stroke-width="1.0"/>
<line x1="378.8" y1="146.20000000000002" x2="421.7" y2="146.20000000000002" stroke="#444" stroke-width="1.0"/>
<line x1="395.6" y1="128.4" x2="395.6" y2="158.20000000000002" stroke="#444" stroke-width="1.0"/>
<text x="407.0" y="138.70000000000002" font-size="7.4" font-weight="bold" fill="#000" stroke="#000" stroke-width="0.3" textLength="10.2" lengthAdjust="spacingAndGlyphs">3.8</text>
<path d="M442.0 138.70000000000002 L445.5 138.20000000000002 L448.5 141.70000000000002 L448.5 146.20000000000002 L451.0 149.20000000000002 L450.5 157.60000000000002 L442.0 157.60000000000002 Z" fill="#a8a8a8" filter="url(#spk)"/>
<path d="M442.6 140.20000000000002 L445.4 140.70000000000002 L445.8 146.20000000000002 L447.8 148.20000000000002 L447.2 157.20000000000002 L442.3 157.20000000000002 L442.3 146.20000000000002 Z" fill="#555" filter="url(#bl)"/>
<rect x="425.40" y="128.40" width="42.90" height="29.80" fill="none" stroke="#444" stroke-width="1.0"/>
<line x1="425.4" y1="146.20000000000002" x2="468.29999999999995" y2="146.20000000000002" stroke="#444" stroke-width="1.0"/>
<line x1="442.0" y1="128.4" x2="442.0" y2="158.20000000000002" stroke="#444" stroke-width="1.0"/>
<text x="451.3" y="138.70000000000002" font-size="7.4" font-weight="bold" fill="#000" stroke="#000" stroke-width="0.3" textLength="10.2" lengthAdjust="spacingAndGlyphs">8.5</text>
<path d="M488.7 138.70000000000002 L492.2 138.20000000000002 L495.2 141.70000000000002 L495.2 146.20000000000002 L497.7 149.20000000000002 L497.2 157.60000000000002 L488.7 157.60000000000002 Z" fill="#a8a8a8" filter="url(#spk)"/>
<path d="M489.3 140.20000000000002 L492.09999999999997 140.70000000000002 L492.5 146.20000000000002 L494.5 148.20000000000002 L493.9 157.20000000000002 L489.0 157.20000000000002 L489.0 146.20000000000002 Z" fill="#555" filter="url(#bl)"/>
<rect x="471.60" y="128.40" width="42.90" height="29.80" fill="none" stroke="#444" stroke-width="1.0"/>
<line x1="471.6" y1="146.20000000000002" x2="514.5" y2="146.20000000000002" stroke="#444" stroke-width="1.0"/>
<line x1="488.7" y1="128.4" x2="488.7" y2="158.20000000000002" stroke="#444" stroke-width="1.0"/>
<text x="495.8" y="138.70000000000002" font-size="7.4" font-weight="bold" fill="#000" stroke="#000" stroke-width="0.3" textLength="14.0" lengthAdjust="spacingAndGlyphs">12.6</text>
<text x="0.5" y="190.9" font-size="10.6" font-weight="bold" fill="#000" stroke="#000" stroke-width="0.3" textLength="8.0" lengthAdjust="spacingAndGlyphs">C</text>
<text x="29.9" y="197.6" font-size="9.2" font-weight="bold" fill="#000" stroke="#000" stroke-width="0.3" text-anchor="middle">i</text>
<text x="27.6" y="224.7" font-size="9.4" font-weight="bold" fill="#000" stroke="#000" stroke-width="0.2" textLength="26.4" lengthAdjust="spacingAndGlyphs">32.7%</text>
<line x1="21.9" y1="224.3" x2="21.9" y2="236.8" stroke="#888" stroke-width="0.9"/>
<line x1="49.3" y1="226.5" x2="49.3" y2="236.8" stroke="#888" stroke-width="0.9"/>
<line x1="21.9" y1="230.6" x2="49.3" y2="230.6" stroke="#555" stroke-width="0.9"/>
<text x="36.3" y="238.8" font-size="6.4" fill="#222" stroke="#222" stroke-width="0.3" textLength="8.4" lengthAdjust="spacingAndGlyphs">M1</text>
<text x="89.5" y="197.6" font-size="9.2" font-weight="bold" fill="#000" stroke="#000" stroke-width="0.3" text-anchor="middle">ii</text>
<text x="87.6" y="224.7" font-size="9.4" font-weight="bold" fill="#000" stroke="#000" stroke-width="0.2" textLength="26.4" lengthAdjust="spacingAndGlyphs">52.7%</text>
<line x1="82.9" y1="224.3" x2="82.9" y2="236.8" stroke="#888" stroke-width="0.9"/>
<line x1="109.1" y1="226.5" x2="109.1" y2="236.8" stroke="#888" stroke-width="0.9"/>
<line x1="82.9" y1="230.6" x2="109.1" y2="230.6" stroke="#555" stroke-width="0.9"/>
<text x="96.9" y="238.8" font-size="6.4" fill="#222" stroke="#222" stroke-width="0.3" textLength="8.4" lengthAdjust="spacingAndGlyphs">M1</text>
<text x="150.2" y="197.6" font-size="9.2" font-weight="bold" fill="#000" stroke="#000" stroke-width="0.3" text-anchor="middle">iii</text>
<text x="146.0" y="224.7" font-size="9.4" font-weight="bold" fill="#000" stroke="#000" stroke-width="0.2" textLength="26.4" lengthAdjust="spacingAndGlyphs">98.9%</text>
<line x1="142.5" y1="224.3" x2="142.5" y2="236.8" stroke="#888" stroke-width="0.9"/>
<line x1="169.4" y1="226.5" x2="169.4" y2="236.8" stroke="#888" stroke-width="0.9"/>
<line x1="142.5" y1="230.6" x2="169.4" y2="230.6" stroke="#555" stroke-width="0.9"/>
<text x="156.8" y="238.8" font-size="6.4" fill="#222" stroke="#222" stroke-width="0.3" textLength="8.4" lengthAdjust="spacingAndGlyphs">M1</text>
<text x="211.2" y="197.6" font-size="9.2" font-weight="bold" fill="#000" stroke="#000" stroke-width="0.3" text-anchor="middle">iv</text>
<text x="206.3" y="224.7" font-size="9.4" font-weight="bold" fill="#000" stroke="#000" stroke-width="0.2" textLength="26.4" lengthAdjust="spacingAndGlyphs">75.1%</text>
<line x1="201.8" y1="224.3" x2="201.8" y2="236.8" stroke="#888" stroke-width="0.9"/>
<line x1="227.5" y1="226.5" x2="227.5" y2="236.8" stroke="#888" stroke-width="0.9"/>
<line x1="201.8" y1="230.6" x2="227.5" y2="230.6" stroke="#555" stroke-width="0.9"/>
<text x="214.9" y="238.8" font-size="6.4" fill="#222" stroke="#222" stroke-width="0.3" textLength="8.4" lengthAdjust="spacingAndGlyphs">M1</text>
<text x="270.1" y="197.6" font-size="9.2" font-weight="bold" fill="#000" stroke="#000" stroke-width="0.3" text-anchor="middle">v</text>
<text x="263.6" y="224.7" font-size="9.4" font-weight="bold" fill="#000" stroke="#000" stroke-width="0.2" textLength="26.4" lengthAdjust="spacingAndGlyphs">98.8%</text>
<line x1="261.6" y1="224.3" x2="261.6" y2="236.8" stroke="#888" stroke-width="0.9"/>
<line x1="288.4" y1="226.5" x2="288.4" y2="236.8" stroke="#888" stroke-width="0.9"/>
<line x1="261.6" y1="230.6" x2="288.4" y2="230.6" stroke="#555" stroke-width="0.9"/>
<text x="275.4" y="238.8" font-size="6.4" fill="#222" stroke="#222" stroke-width="0.3" textLength="8.4" lengthAdjust="spacingAndGlyphs">M1</text>
<text x="330.9" y="197.6" font-size="9.2" font-weight="bold" fill="#000" stroke="#000" stroke-width="0.3" text-anchor="middle">vi</text>
<text x="323.0" y="224.7" font-size="9.4" font-weight="bold" fill="#000" stroke="#000" stroke-width="0.2" textLength="26.4" lengthAdjust="spacingAndGlyphs">98.4%</text>
<line x1="322.5" y1="224.3" x2="322.5" y2="236.8" stroke="#888" stroke-width="0.9"/>
<line x1="349.2" y1="226.5" x2="349.2" y2="236.8" stroke="#888" stroke-width="0.9"/>
<line x1="322.5" y1="230.6" x2="349.2" y2="230.6" stroke="#555" stroke-width="0.9"/>
<text x="335.4" y="238.8" font-size="6.4" fill="#222" stroke="#222" stroke-width="0.3" textLength="8.4" lengthAdjust="spacingAndGlyphs">M1</text>
<path d="M10.00 263.50 C10.50 262.58 12.17 259.92 13.00 258.00 C13.83 256.08 14.33 254.00 15.00 252.00 C15.67 250.00 16.42 247.75 17.00 246.00 C17.58 244.25 18.00 242.40 18.50 241.50 C19.00 240.60 19.58 240.35 20.00 240.60 C20.42 240.85 20.50 241.60 21.00 243.00 C21.50 244.40 22.33 247.17 23.00 249.00 C23.67 250.83 24.33 252.50 25.00 254.00 C25.67 255.50 26.33 256.92 27.00 258.00 C27.67 259.08 28.17 259.83 29.00 260.50 C29.83 261.17 30.17 261.55 32.00 262.00 C33.83 262.45 37.83 262.95 40.00 263.20 C42.17 263.45 44.17 263.45 45.00 263.50 L45.00 263.8 L10.00 263.8 Z" fill="#5c5c5c" stroke="#444" stroke-width="0.3"/>
<path d="M2.80 258.00 C3.15 257.80 4.10 257.63 4.90 256.80 C5.70 255.97 6.92 253.88 7.60 253.00 C8.28 252.12 8.47 252.30 9.00 251.50 C9.53 250.70 10.13 249.20 10.80 248.20 C11.47 247.20 12.38 245.82 13.00 245.50 C13.62 245.18 13.97 245.77 14.50 246.30 C15.03 246.83 15.70 248.00 16.20 248.70 C16.70 249.40 17.28 250.20 17.50 250.50" fill="none" stroke="#000" stroke-width="1.35" stroke-linejoin="round"/>
<path d="M72.00 264.00 C72.50 263.00 74.17 260.00 75.00 258.00 C75.83 256.00 76.27 253.45 77.00 252.00 C77.73 250.55 78.57 249.47 79.40 249.30 C80.23 249.13 81.23 250.22 82.00 251.00 C82.77 251.78 83.33 253.17 84.00 254.00 C84.67 254.83 85.42 255.75 86.00 256.00 C86.58 256.25 86.93 255.75 87.50 255.50 C88.07 255.25 88.82 254.42 89.40 254.50 C89.98 254.58 90.38 255.78 91.00 256.00 C91.62 256.22 92.43 255.30 93.10 255.80 C93.77 256.30 94.18 257.97 95.00 259.00 C95.82 260.03 96.83 261.25 98.00 262.00 C99.17 262.75 100.00 263.17 102.00 263.50 C104.00 263.83 108.67 263.92 110.00 264.00 L110.00 263.8 L72.00 263.8 Z" fill="#5c5c5c" stroke="#444" stroke-width="0.3"/>
<path d="M62.60 262.40 C62.83 262.50 63.60 263.15 64.00 263.00 C64.40 262.85 64.67 262.33 65.00 261.50 C65.33 260.67 65.50 260.25 66.00 258.00 C66.50 255.75 67.33 250.83 68.00 248.00 C68.67 245.17 69.50 242.35 70.00 241.00 C70.50 239.65 70.58 239.57 71.00 239.90 C71.42 240.23 72.00 240.98 72.50 243.00 C73.00 245.02 73.50 249.50 74.00 252.00 C74.50 254.50 75.03 256.50 75.50 258.00 C75.97 259.50 76.58 260.50 76.80 261.00" fill="none" stroke="#000" stroke-width="1.35" stroke-linejoin="round"/>
<path d="M155.00 263.20 C155.42 262.92 156.83 262.53 157.50 261.50 C158.17 260.47 158.50 259.25 159.00 257.00 C159.50 254.75 160.08 250.67 160.50 248.00 C160.92 245.33 161.18 242.63 161.50 241.00 C161.82 239.37 162.10 238.20 162.40 238.20 C162.70 238.20 162.95 239.37 163.30 241.00 C163.65 242.63 164.05 245.67 164.50 248.00 C164.95 250.33 165.42 253.08 166.00 255.00 C166.58 256.92 167.33 258.42 168.00 259.50 C168.67 260.58 169.17 260.92 170.00 261.50 C170.83 262.08 172.50 262.75 173.00 263.00 L173.00 263.8 L155.00 263.8 Z" fill="#5c5c5c" stroke="#444" stroke-width="0.3"/>
<path d="M123.50 262.50 C123.92 262.25 125.25 261.92 126.00 261.00 C126.75 260.08 127.33 259.00 128.00 257.00 C128.67 255.00 129.33 252.00 130.00 249.00 C130.67 246.00 131.40 241.43 132.00 239.00 C132.60 236.57 133.10 234.57 133.60 234.40 C134.10 234.23 134.52 236.07 135.00 238.00 C135.48 239.93 136.00 243.33 136.50 246.00 C137.00 248.67 137.50 251.83 138.00 254.00 C138.50 256.17 139.00 257.75 139.50 259.00 C140.00 260.25 140.42 260.97 141.00 261.50 C141.58 262.03 141.50 262.07 143.00 262.20 C144.50 262.33 147.83 262.25 150.00 262.30 C152.17 262.35 155.00 262.47 156.00 262.50" fill="none" stroke="#000" stroke-width="1.35" stroke-linejoin="round"/>
<path d="M195.00 263.50 C195.33 262.92 196.33 261.58 197.00 260.00 C197.67 258.42 198.33 255.67 199.00 254.00 C199.67 252.33 200.33 251.03 201.00 250.00 C201.67 248.97 202.45 248.27 203.00 247.80 C203.55 247.33 203.80 247.08 204.30 247.20 C204.80 247.32 205.47 247.95 206.00 248.50 C206.53 249.05 206.92 249.58 207.50 250.50 C208.08 251.42 208.87 253.27 209.50 254.00 C210.13 254.73 210.72 254.48 211.30 254.90 C211.88 255.32 212.38 255.82 213.00 256.50 C213.62 257.18 214.33 258.33 215.00 259.00 C215.67 259.67 215.83 260.00 217.00 260.50 C218.17 261.00 219.83 261.58 222.00 262.00 C224.17 262.42 227.33 262.75 230.00 263.00 C232.67 263.25 236.67 263.42 238.00 263.50 L238.00 263.8 L195.00 263.8 Z" fill="#5c5c5c" stroke="#444" stroke-width="0.3"/>
<path d="M183.50 262.50 C183.75 261.25 184.25 257.92 185.00 255.00 C185.75 252.08 187.17 247.33 188.00 245.00 C188.83 242.67 189.30 241.95 190.00 241.00 C190.70 240.05 191.53 238.97 192.20 239.30 C192.87 239.63 193.37 240.88 194.00 243.00 C194.63 245.12 195.42 249.50 196.00 252.00 C196.58 254.50 197.00 256.67 197.50 258.00 C198.00 259.33 198.75 259.67 199.00 260.00" fill="none" stroke="#000" stroke-width="1.35" stroke-linejoin="round"/>
<path d="M268.00 263.50 C268.43 263.25 269.85 262.92 270.60 262.00 C271.35 261.08 271.85 259.83 272.50 258.00 C273.15 256.17 273.83 253.33 274.50 251.00 C275.17 248.67 275.87 245.90 276.50 244.00 C277.13 242.10 277.72 239.77 278.30 239.60 C278.88 239.43 279.47 241.27 280.00 243.00 C280.53 244.73 281.00 247.83 281.50 250.00 C282.00 252.17 282.42 254.33 283.00 256.00 C283.58 257.67 284.17 258.92 285.00 260.00 C285.83 261.08 286.83 261.92 288.00 262.50 C289.17 263.08 291.33 263.33 292.00 263.50 L292.00 263.8 L268.00 263.8 Z" fill="#5c5c5c" stroke="#444" stroke-width="0.3"/>
<path d="M242.00 262.50 C242.15 262.42 242.48 262.92 242.90 262.00 C243.32 261.08 243.90 259.17 244.50 257.00 C245.10 254.83 245.83 251.50 246.50 249.00 C247.17 246.50 247.83 243.68 248.50 242.00 C249.17 240.32 249.65 239.42 250.50 238.90 C251.35 238.38 252.77 238.05 253.60 238.90 C254.43 239.75 254.93 241.98 255.50 244.00 C256.07 246.02 256.50 248.83 257.00 251.00 C257.50 253.17 257.97 255.25 258.50 257.00 C259.03 258.75 259.62 260.62 260.20 261.50 C260.78 262.38 261.70 262.17 262.00 262.30" fill="none" stroke="#000" stroke-width="1.35" stroke-linejoin="round"/>
<path d="M324.00 263.50 C324.65 263.08 326.73 261.58 327.90 261.00 C329.07 260.42 330.08 260.50 331.00 260.00 C331.92 259.50 332.73 259.33 333.40 258.00 C334.07 256.67 334.48 254.17 335.00 252.00 C335.52 249.83 336.00 247.17 336.50 245.00 C337.00 242.83 337.58 240.25 338.00 239.00 C338.42 237.75 338.67 237.50 339.00 237.50 C339.33 237.50 339.58 237.58 340.00 239.00 C340.42 240.42 341.00 243.67 341.50 246.00 C342.00 248.33 342.42 250.83 343.00 253.00 C343.58 255.17 344.40 257.58 345.00 259.00 C345.60 260.42 345.77 260.75 346.60 261.50 C347.43 262.25 349.43 263.17 350.00 263.50 L350.00 263.8 L324.00 263.8 Z" fill="#5c5c5c" stroke="#444" stroke-width="0.3"/>
<path d="M302.60 243.00 C302.70 245.00 303.00 251.92 303.20 255.00 C303.40 258.08 303.50 261.17 303.80 261.50 C304.10 261.83 304.47 259.42 305.00 257.00 C305.53 254.58 306.33 250.17 307.00 247.00 C307.67 243.83 308.47 239.93 309.00 238.00 C309.53 236.07 309.78 235.57 310.20 235.40 C310.62 235.23 311.03 235.57 311.50 237.00 C311.97 238.43 312.42 241.83 313.00 244.00 C313.58 246.17 314.33 248.17 315.00 250.00 C315.67 251.83 316.50 253.67 317.00 255.00 C317.50 256.33 317.50 257.08 318.00 258.00 C318.50 258.92 319.33 259.83 320.00 260.50 C320.67 261.17 321.67 261.75 322.00 262.00" fill="none" stroke="#000" stroke-width="1.35" stroke-linejoin="round"/>
<line x1="1.5" y1="202.6" x2="62.1" y2="202.6" stroke="#222" stroke-width="1.0"/>
<line x1="2.4" y1="202.6" x2="2.4" y2="263.8" stroke="#000" stroke-width="1.5"/>
<line x1="61.6" y1="202.6" x2="61.6" y2="263.8" stroke="#222" stroke-width="1.0"/>
<line x1="1.5" y1="263.8" x2="62.1" y2="263.8" stroke="#333" stroke-width="1.1"/>
<line x1="2.0" y1="265.5" x2="61.6" y2="265.5" stroke="#666" stroke-width="2.2" stroke-dasharray="0.8 1.3"/>
<line x1="61.5" y1="202.6" x2="122.0" y2="202.6" stroke="#777" stroke-width="1.0"/>
<line x1="62.0" y1="202.6" x2="62.0" y2="263.8" stroke="#777" stroke-width="1.0"/>
<line x1="121.5" y1="202.6" x2="121.5" y2="263.8" stroke="#777" stroke-width="1.0"/>
<line x1="61.5" y1="263.8" x2="122.0" y2="263.8" stroke="#333" stroke-width="1.1"/>
<line x1="62.0" y1="265.5" x2="121.5" y2="265.5" stroke="#666" stroke-width="2.2" stroke-dasharray="0.8 1.3"/>
<line x1="121.8" y1="202.6" x2="182.7" y2="202.6" stroke="#333" stroke-width="1.0"/>
<line x1="122.3" y1="202.6" x2="122.3" y2="263.8" stroke="#333" stroke-width="1.0"/>
<line x1="182.2" y1="202.6" x2="182.2" y2="263.8" stroke="#333" stroke-width="1.0"/>
<line x1="121.8" y1="263.8" x2="182.7" y2="263.8" stroke="#333" stroke-width="1.1"/>
<line x1="122.3" y1="265.5" x2="182.2" y2="265.5" stroke="#666" stroke-width="2.2" stroke-dasharray="0.8 1.3"/>
<line x1="182.1" y1="202.6" x2="241.5" y2="202.6" stroke="#222" stroke-width="1.0"/>
<line x1="182.6" y1="202.6" x2="182.6" y2="263.8" stroke="#222" stroke-width="1.0"/>
<line x1="241.0" y1="202.6" x2="241.0" y2="263.8" stroke="#222" stroke-width="1.0"/>
<line x1="182.1" y1="263.8" x2="241.5" y2="263.8" stroke="#333" stroke-width="1.1"/>
<line x1="182.6" y1="265.5" x2="241.0" y2="265.5" stroke="#666" stroke-width="2.2" stroke-dasharray="0.8 1.3"/>
<line x1="240.3" y1="201.79999999999998" x2="302.3" y2="201.79999999999998" stroke="#777" stroke-width="1.0"/>
<line x1="240.8" y1="201.79999999999998" x2="240.8" y2="263.8" stroke="#888" stroke-width="1.2" stroke-dasharray="1.2 0.8"/>
<line x1="301.8" y1="201.79999999999998" x2="301.8" y2="263.8" stroke="#777" stroke-width="1.0"/>
<line x1="240.3" y1="263.8" x2="302.3" y2="263.8" stroke="#333" stroke-width="1.1"/>
<line x1="240.8" y1="265.5" x2="301.8" y2="265.5" stroke="#666" stroke-width="2.2" stroke-dasharray="0.8 1.3"/>
<line x1="301.4" y1="202.6" x2="361.8" y2="202.6" stroke="#333" stroke-width="1.0"/>
<line x1="301.9" y1="202.6" x2="301.9" y2="263.8" stroke="#333" stroke-width="1.0"/>
<line x1="361.3" y1="202.6" x2="361.3" y2="263.8" stroke="#333" stroke-width="1.0"/>
<line x1="301.4" y1="263.8" x2="361.8" y2="263.8" stroke="#333" stroke-width="1.1"/>
<line x1="301.9" y1="265.5" x2="361.3" y2="265.5" stroke="#666" stroke-width="2.2" stroke-dasharray="0.8 1.3"/>
<line x1="1.4" y1="278.2" x2="297" y2="278.2" stroke="#000" stroke-width="2.2"/>
<path d="M303.3 278.2 L296 274.9 L296 281.5 Z" fill="#000"/>
<text x="312.6" y="283.0" font-size="10" font-weight="bold" fill="#000" stroke="#000" stroke-width="0.3" textLength="27.0" lengthAdjust="spacingAndGlyphs">B7H1</text>
<text x="374.6" y="191.0" font-size="11.2" font-weight="bold" fill="#000" stroke="#000" stroke-width="0.3">D</text>
<line x1="401.2" y1="185.3" x2="401.2" y2="299.8" stroke="#aaa" stroke-width="0.8"/>
<line x1="401.2" y1="299.8" x2="521" y2="299.8" stroke="#aaa" stroke-width="0.8"/>
<line x1="401.2" y1="299.8" x2="401.2" y2="301.3" stroke="#bbb" stroke-width="0.6"/>
<line x1="431.2" y1="299.8" x2="431.2" y2="301.3" stroke="#bbb" stroke-width="0.6"/>
<line x1="461.2" y1="299.8" x2="461.2" y2="301.3" stroke="#bbb" stroke-width="0.6"/>
<line x1="491.2" y1="299.8" x2="491.2" y2="301.3" stroke="#bbb" stroke-width="0.6"/>
<line x1="521.2" y1="299.8" x2="521.2" y2="301.3" stroke="#bbb" stroke-width="0.6"/>
<line x1="399.7" y1="185.3" x2="401.2" y2="185.3" stroke="#bbb" stroke-width="0.6"/>
<text x="397.7" y="186.9" font-size="6.2" font-weight="bold" fill="#333" stroke="#333" stroke-width="0.3" text-anchor="end" textLength="5.8" lengthAdjust="spacingAndGlyphs">50</text>
<line x1="399.7" y1="208.20000000000002" x2="401.2" y2="208.20000000000002" stroke="#bbb" stroke-width="0.6"/>
<text x="397.7" y="209.8" font-size="6.2" font-weight="bold" fill="#333" stroke="#333" stroke-width="0.3" text-anchor="end" textLength="5.8" lengthAdjust="spacingAndGlyphs">40</text>
<line x1="399.7" y1="231.10000000000002" x2="401.2" y2="231.10000000000002" stroke="#bbb" stroke-width="0.6"/>
<text x="397.7" y="232.70000000000002" font-size="6.2" font-weight="bold" fill="#333" stroke="#333" stroke-width="0.3" text-anchor="end" textLength="5.8" lengthAdjust="spacingAndGlyphs">30</text>
<line x1="399.7" y1="254.0" x2="401.2" y2="254.0" stroke="#bbb" stroke-width="0.6"/>
<text x="397.7" y="255.6" font-size="6.2" font-weight="bold" fill="#333" stroke="#333" stroke-width="0.3" text-anchor="end" textLength="5.8" lengthAdjust="spacingAndGlyphs">20</text>
<line x1="399.7" y1="276.9" x2="401.2" y2="276.9" stroke="#bbb" stroke-width="0.6"/>
<text x="397.7" y="278.5" font-size="6.2" font-weight="bold" fill="#333" stroke="#333" stroke-width="0.3" text-anchor="end" textLength="5.8" lengthAdjust="spacingAndGlyphs">10</text>
<line x1="399.7" y1="299.8" x2="401.2" y2="299.8" stroke="#bbb" stroke-width="0.6"/>
<text x="397.7" y="301.40000000000003" font-size="6.2" font-weight="bold" fill="#333" stroke="#333" stroke-width="0.3" text-anchor="end" textLength="2.9" lengthAdjust="spacingAndGlyphs">0</text>
<text transform="translate(388.2 245.9) rotate(-90)" font-size="9.4" font-weight="bold" text-anchor="middle" textLength="65.7" lengthAdjust="spacingAndGlyphs">% Cytotoxicity</text>
<rect x="406.50" y="234.50" width="6.70" height="65.30" fill="#fff" stroke="#333" stroke-width="0.7"/>
<rect x="413.20" y="209.30" width="6.70" height="90.50" fill="#666" stroke="#333" stroke-width="0.6"/>
<rect x="419.90" y="236.00" width="6.70" height="63.80" fill="url(#hatch)" stroke="#555" stroke-width="0.6"/>
<line x1="409.85" y1="234.5" x2="409.85" y2="222.4" stroke="#666" stroke-width="0.8"/>
<line x1="408.35" y1="222.4" x2="411.35" y2="222.4" stroke="#666" stroke-width="0.8"/>
<line x1="416.55" y1="209.3" x2="416.55" y2="200.4" stroke="#333" stroke-width="0.9"/>
<line x1="414.75" y1="200.4" x2="418.35" y2="200.4" stroke="#333" stroke-width="0.9"/>
<line x1="423.25" y1="236.0" x2="423.25" y2="225.5" stroke="#666" stroke-width="0.8"/>
<line x1="421.75" y1="225.5" x2="424.75" y2="225.5" stroke="#666" stroke-width="0.8"/>
<circle cx="414.05" cy="196.60" r="1.5" fill="#888" filter="url(#bl2)"/>
<circle cx="419.05" cy="196.60" r="1.5" fill="#888" filter="url(#bl2)"/>
<text x="416.3" y="311.6" font-size="5.6" font-weight="bold" fill="#333" stroke="#333" stroke-width="0.3" text-anchor="middle">A</text>
<rect x="436.50" y="240.30" width="6.70" height="59.50" fill="#fff" stroke="#333" stroke-width="0.7"/>
<rect x="443.20" y="217.40" width="6.70" height="82.40" fill="#666" stroke="#333" stroke-width="0.6"/>
<rect x="449.90" y="241.60" width="6.70" height="58.20" fill="url(#hatch)" stroke="#555" stroke-width="0.6"/>
<line x1="439.85" y1="240.3" x2="439.85" y2="231.2" stroke="#666" stroke-width="0.8"/>
<line x1="438.35" y1="231.2" x2="441.35" y2="231.2" stroke="#666" stroke-width="0.8"/>
<line x1="446.55" y1="217.4" x2="446.55" y2="209.0" stroke="#333" stroke-width="0.9"/>
<line x1="444.75" y1="209.0" x2="448.35" y2="209.0" stroke="#333" stroke-width="0.9"/>
<line x1="453.25" y1="241.6" x2="453.25" y2="236.2" stroke="#666" stroke-width="0.8"/>
<line x1="451.75" y1="236.2" x2="454.75" y2="236.2" stroke="#666" stroke-width="0.8"/>
<circle cx="444.05" cy="205.20" r="1.5" fill="#888" filter="url(#bl2)"/>
<circle cx="449.05" cy="205.20" r="1.5" fill="#888" filter="url(#bl2)"/>
<text x="446.3" y="311.6" font-size="5.6" font-weight="bold" fill="#333" stroke="#333" stroke-width="0.3" text-anchor="middle">B</text>
<rect x="466.50" y="289.30" width="6.70" height="10.50" fill="#fff" stroke="#333" stroke-width="0.7"/>
<rect x="473.20" y="269.80" width="6.70" height="30.00" fill="#666" stroke="#333" stroke-width="0.6"/>
<rect x="479.90" y="289.30" width="6.70" height="10.50" fill="url(#hatch)" stroke="#555" stroke-width="0.6"/>
<line x1="469.85" y1="289.3" x2="469.85" y2="284.6" stroke="#666" stroke-width="0.8"/>
<line x1="468.35" y1="284.6" x2="471.35" y2="284.6" stroke="#666" stroke-width="0.8"/>
<line x1="476.55" y1="269.8" x2="476.55" y2="265.4" stroke="#333" stroke-width="0.9"/>
<line x1="474.75" y1="265.4" x2="478.35" y2="265.4" stroke="#333" stroke-width="0.9"/>
<line x1="483.25" y1="289.3" x2="483.25" y2="285.4" stroke="#666" stroke-width="0.8"/>
<line x1="481.75" y1="285.4" x2="484.75" y2="285.4" stroke="#666" stroke-width="0.8"/>
<circle cx="474.05" cy="261.60" r="1.5" fill="#888" filter="url(#bl2)"/>
<circle cx="479.05" cy="261.60" r="1.5" fill="#888" filter="url(#bl2)"/>
<text x="476.3" y="311.6" font-size="5.6" font-weight="bold" fill="#333" stroke="#333" stroke-width="0.3" text-anchor="middle">C</text>
<rect x="496.50" y="254.80" width="6.70" height="45.00" fill="#fff" stroke="#333" stroke-width="0.7"/>
<rect x="503.20" y="224.80" width="6.70" height="75.00" fill="#666" stroke="#333" stroke-width="0.6"/>
<rect x="509.90" y="251.70" width="6.70" height="48.10" fill="url(#hatch)" stroke="#555" stroke-width="0.6"/>
<line x1="499.85" y1="254.8" x2="499.85" y2="245.7" stroke="#666" stroke-width="0.8"/>
<line x1="498.35" y1="245.7" x2="501.35" y2="245.7" stroke="#666" stroke-width="0.8"/>
<line x1="506.55" y1="224.8" x2="506.55" y2="216.9" stroke="#333" stroke-width="0.9"/>
<line x1="504.75" y1="216.9" x2="508.35" y2="216.9" stroke="#333" stroke-width="0.9"/>
<line x1="513.25" y1="251.7" x2="513.25" y2="243.9" stroke="#666" stroke-width="0.8"/>
<line x1="511.75" y1="243.9" x2="514.75" y2="243.9" stroke="#666" stroke-width="0.8"/>
<circle cx="504.05" cy="213.10" r="1.5" fill="#888" filter="url(#bl2)"/>
<circle cx="509.05" cy="213.10" r="1.5" fill="#888" filter="url(#bl2)"/>
<text x="506.3" y="311.6" font-size="5.6" font-weight="bold" fill="#333" stroke="#333" stroke-width="0.3" text-anchor="middle">D</text>
<text x="440.0" y="322.8" font-size="9.8" font-weight="bold" fill="#000" stroke="#000" stroke-width="0.3" textLength="30.0" lengthAdjust="spacingAndGlyphs">Tumor</text>
<rect x="459.90" y="184.20" width="31.50" height="33.60" fill="#fff" stroke="#ccc" stroke-width="0.7"/>
<rect x="461.90" y="188.90" width="2.60" height="3.00" fill="#fff" stroke="#222" stroke-width="0.6"/>
<rect x="461.90" y="200.00" width="2.60" height="3.00" fill="#444" stroke="#222" stroke-width="0.6"/>
<rect x="461.90" y="211.60" width="2.60" height="3.00" fill="url(#hatch)" stroke="#222" stroke-width="0.6"/>
<text x="466.1" y="192.2" font-size="5.6" fill="#222" stroke="#222" stroke-width="0.05" textLength="18.8" lengthAdjust="spacingAndGlyphs">Medium</text>
<text x="466.1" y="203.5" font-size="5.6" fill="#222" stroke="#222" stroke-width="0.05" textLength="23.6" lengthAdjust="spacingAndGlyphs">anti-B7H1</text>
<text x="466.1" y="215.2" font-size="5.6" fill="#222" stroke="#222" stroke-width="0.05" textLength="18.1" lengthAdjust="spacingAndGlyphs">Rat IgG</text>
</svg></body></html>
